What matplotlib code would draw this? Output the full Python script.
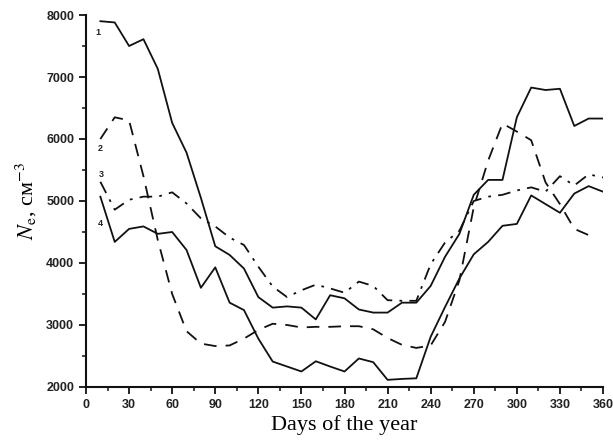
import matplotlib
matplotlib.use("Agg")
import matplotlib.pyplot as plt
from matplotlib.ticker import MultipleLocator

plt.rcParams["mathtext.fontset"] = "stix"

# days of the year (10-day steps)
days = list(range(10, 361, 10))

ne_1 = [7900, 7880, 7500, 7610, 7130, 6260, 5780, 5050, 4270, 4130,
        3910, 3450, 3280, 3300, 3280, 3090, 3480, 3430, 3250, 3200,
        3200, 3360, 3360, 3630, 4100, 4470, 5100, 5340, 5340, 6350,
        6830, 6790, 6810, 6210, 6330, 6330]

days_2 = list(range(10, 351, 10))
ne_2 = [6000, 6350, 6300, 5400, 4370, 3500, 2900, 2700, 2660, 2670,
        2780, 2920, 3020, 3000, 2960, 2970, 2970, 2980, 2980, 2930,
        2790, 2680, 2630, 2670, 3050, 3720, 4900, 5650, 6250, 6120,
        5980, 5300, 4950, 4550, 4450]

ne_3 = [5310, 4860, 5020, 5070, 5070, 5140, 4960, 4720, 4590, 4410,
        4290, 3940, 3620, 3450, 3560, 3650, 3590, 3520, 3700, 3630,
        3400, 3390, 3390, 3980, 4330, 4520, 5000, 5070, 5100, 5170,
        5220, 5150, 5400, 5250, 5430, 5380]

ne_4 = [5070, 4340, 4550, 4590, 4470, 4500, 4210, 3600, 3930, 3360,
        3240, 2780, 2410, 2330, 2250, 2415, 2330, 2250, 2460, 2400,
        2115, 2130, 2140, 2810, 3290, 3750, 4140, 4340, 4600, 4630,
        5090, 4950, 4810, 5120, 5240, 5150]

curve_labels = ["1", "2", "3", "4"]
label_x = [8, 10, 11, 10]
label_y = [7720, 5850, 5420, 4640]

fig = plt.figure(figsize=(6.13, 4.48), dpi=100)
ax = fig.add_axes([0.1403, 0.1362, 0.8434, 0.8303])

lw = 1.3
ax.plot(days, ne_1, color="#111", lw=lw, linestyle="-")
ax.plot(days_2, ne_2, color="#111", lw=lw, linestyle=(0, (7, 5)))
ax.plot(days, ne_3, color="#111", lw=lw, linestyle=(0, (7, 4, 1.5, 4)))
ax.plot(days, ne_4, color="#111", lw=lw, linestyle="-")

for t, x, y in zip(curve_labels, label_x, label_y):
    ax.text(x, y, t, fontsize=6.5, fontweight="bold", family="Liberation Sans",
            ha="center", va="center", color="#222")

ax.set_xlim(0, 360)
ax.set_ylim(2000, 8000)
ax.xaxis.set_major_locator(MultipleLocator(30))
ax.xaxis.set_minor_locator(MultipleLocator(15))
ax.yaxis.set_major_locator(MultipleLocator(1000))
ax.yaxis.set_minor_locator(MultipleLocator(500))

for s in ("top", "right"):
    ax.spines[s].set_visible(False)
for s in ("left", "bottom"):
    ax.spines[s].set_linewidth(1.5)
    ax.spines[s].set_color("#111")

ax.tick_params(which="major", direction="out", length=5, width=1.3, color="#111")
ax.tick_params(which="minor", direction="out", length=3, width=1.1, color="#111")
for lab in ax.get_xticklabels() + ax.get_yticklabels():
    lab.set_fontfamily("Liberation Sans")
    lab.set_fontweight("bold")
    lab.set_fontsize(9)
    lab.set_color("#222")

ax.set_xlabel("Days of the year", family="Liberation Serif", fontsize=16, labelpad=3)
ax.set_ylabel(r"$N_{\mathrm{e}}$, см$^{-3}$", family="Liberation Serif", fontsize=16, labelpad=5)

fig.savefig("out.png", dpi=100)
